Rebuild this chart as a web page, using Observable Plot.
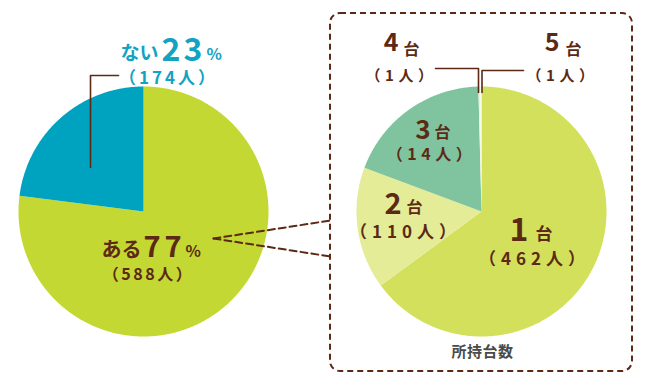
<!DOCTYPE html>
<html>
<head>
<meta charset="utf-8">
<script src="https://cdn.jsdelivr.net/npm/d3@7"></script>
<script src="https://cdn.jsdelivr.net/npm/@observablehq/plot@0.6"></script>
<style>
  html, body { margin: 0; padding: 0; background: #fff; }
  svg text { font-family: "Noto Sans CJK JP", "Noto Sans", sans-serif; font-weight: bold; }
</style>
</head>
<body>
<div id="chart"></div>
<script>
// ---- DATA ----
// Left pie: ownership (ある = owns, ない = doesn't own)
const ownCategories = ["ある", "ない"];
const ownPercent = [77, 23];
const ownCount = [588, 174];

// Right pie: number of units owned (breakdown of ある)
const unitCategories = ["1台", "2台", "3台", "4台", "5台"];
const unitCount = [462, 110, 14, 1, 1];
// slice shares (% of circle) as drawn in the reference picture
const unitShareDrawn = [64.9, 15.8, 18.9, 0.2, 0.2];

const breakdownTitle = "所持台数";
const personUnit = "人";

// ---- STYLE / LAYOUT ----
const W = 650, H = 382, R = 125;
const leftCenter = {x: 143, y: 211};
const rightCenter = {x: 481, y: 211};
const brown = "#5c2a14";
const tealText = "#12a3c3";
const sliceColors = {
  "ある": "#c4d834", "ない": "#00a3bf",
  "1台": "#d3e05c", "2台": "#e4ec97", "3台": "#7fc49e", "4台": "#eef3d6", "5台": "#f6f9e6"
};

function slicePolygons(values, keys, c) {
  const arcs = d3.pie().sort(null).value(d => d)(values);
  const pts = [];
  arcs.forEach((a, i) => {
    const key = keys[i];
    pts.push({key, x: c.x, y: c.y});
    const n = Math.max(2, Math.ceil((a.endAngle - a.startAngle) / (Math.PI / 360)));
    for (let k = 0; k <= n; k++) {
      const t = a.startAngle + (a.endAngle - a.startAngle) * k / n;
      pts.push({key, x: c.x + R * Math.sin(t), y: c.y - R * Math.cos(t)});
    }
    pts.push({key, x: c.x, y: c.y});
  });
  return pts;
}

const piePoints = [
  ...slicePolygons(ownPercent, ownCategories, leftCenter),
  ...slicePolygons(unitShareDrawn, unitCategories, rightCenter)
];
const allKeys = [...ownCategories, ...unitCategories];

// label parts: [text, x, baseline y, size, anchor, color, letterSpacing]
const num = s => s.replace("台", "");
const unitChar = "台";
const paren = n => `（${n}${personUnit}）`;
const parts = [
  [ownCategories[1], 158, 59, 19, "end", tealText, 0],
  [String(ownPercent[1]), 161, 60, 32, "start", tealText, 3],
  ["%", 206, 59, 16, "start", tealText, 0],
  [paren(ownCount[1]), 168, 83, 17, "middle", tealText, 3],

  [ownCategories[0], 141, 256, 20, "end", brown, 0],
  [String(ownPercent[0]), 143, 256, 29, "start", brown, 4],
  ["%", 185, 256, 16, "start", brown, 0],
  [paren(ownCount[0]), 148, 279, 16, "middle", brown, 2.5],

  [num(unitCategories[0]), 528, 240, 32, "end", brown, 0],
  [unitChar, 535, 239, 17, "start", brown, 0],
  [paren(unitCount[0]), 534, 264, 17, "middle", brown, 5],

  [num(unitCategories[1]), 401, 213, 29, "end", brown, 0],
  [unitChar, 406, 212, 16, "start", brown, 0],
  [paren(unitCount[1]), 405, 237, 17, "middle", brown, 5],

  [num(unitCategories[2]), 430, 138, 26, "end", brown, 0],
  [unitChar, 434, 137, 16, "start", brown, 0],
  [paren(unitCount[2]), 431, 159, 16, "middle", brown, 4.5],

  [num(unitCategories[3]), 398, 50, 25, "end", brown, 0],
  [unitChar, 403, 54, 16, "start", brown, 0],
  [paren(unitCount[3]), 401, 80, 15, "middle", brown, 4.5],

  [num(unitCategories[4]), 559, 50, 25, "end", brown, 0],
  [unitChar, 565, 54, 16, "start", brown, 0],
  [paren(unitCount[4]), 562, 80, 15, "middle", brown, 4.5],

  [breakdownTitle, 482, 356, 15, "middle", "#4a4a4a", 0.5]
];

// decorations
const box = [{x1: 330, x2: 632, y1: 13, y2: 371}];
const connectors = [
  {g: "a", x: 213, y: 238}, {g: "a", x: 330, y: 220},
  {g: "b", x: 213, y: 238}, {g: "b", x: 330, y: 256}
];
const leaders = [
  {g: "t", x: 90, y: 167}, {g: "t", x: 90, y: 75}, {g: "t", x: 118, y: 75},
  {g: "4", x: 435, y: 68}, {g: "4", x: 478, y: 68}, {g: "4", x: 478, y: 92},
  {g: "5", x: 523, y: 70}, {g: "5", x: 481.5, y: 70}, {g: "5", x: 481.5, y: 92}
];

const chart = Plot.plot({
  width: W, height: H,
  margin: 0,
  x: {domain: [0, W], range: [0, W], axis: null},
  y: {domain: [0, H], range: [0, H], axis: null},
  color: {domain: allKeys, range: allKeys.map(k => sliceColors[k])},
  style: {background: "#fff", fontFamily: "Noto Sans CJK JP"},
  marks: [
    Plot.line(piePoints, {x: "x", y: "y", z: "key", fill: "key", stroke: "none", curve: "linear"}),
    Plot.rect(box, {x1: "x1", x2: "x2", y1: "y1", y2: "y2", fill: "none", stroke: brown,
      strokeWidth: 2, strokeDasharray: "6,4", rx: 10}),
    Plot.line(connectors, {x: "x", y: "y", z: "g", stroke: brown, strokeWidth: 2, strokeDasharray: "7,4"}),
    Plot.line(leaders, {x: "x", y: "y", z: "g", stroke: brown, strokeWidth: 1.6, curve: "linear"}),
    ...parts.map(([text, x, y, size, anchor, color]) =>
      Plot.text([{text, x, y}], {x: "x", y: "y", text: "text", fontSize: size, textAnchor: anchor,
        fill: color, lineAnchor: "bottom", fontWeight: "bold", fontFamily: "Noto Sans CJK JP"}))
  ]
});

// letter spacing per label text
const spacing = new Map(parts.map(p => [p[0], p[6]]));
d3.select(chart).selectAll("text").each(function() {
  const ls = spacing.get(this.textContent);
  if (ls) this.style.letterSpacing = ls + "px";
});
document.getElementById("chart").appendChild(chart);
</script>
</body>
</html>
